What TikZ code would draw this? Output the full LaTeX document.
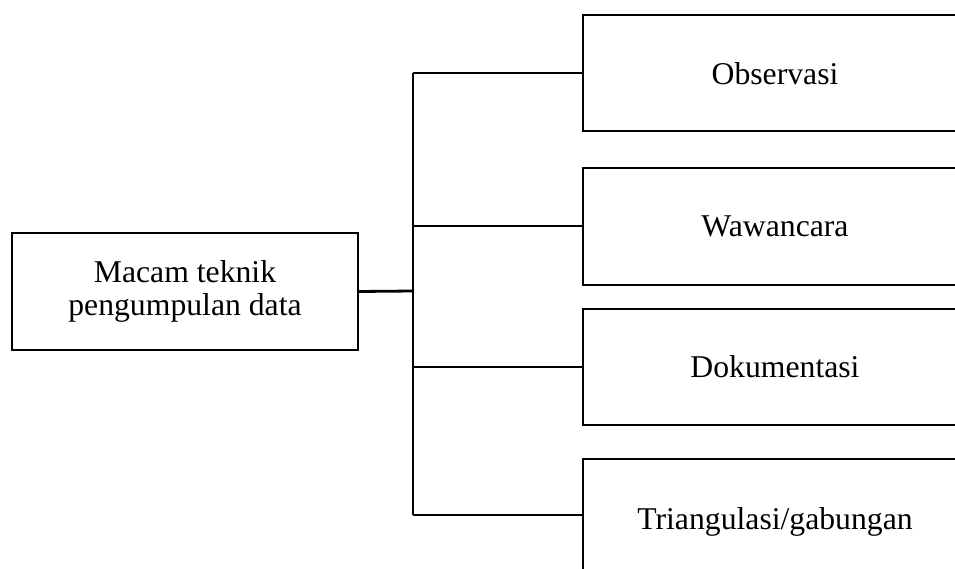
\documentclass[tikz,border=0pt]{standalone}
\usepackage{fontspec}
\setmainfont{Liberation Serif}
\begin{document}
\begin{tikzpicture}[x=1pt,y=-1pt,
  box/.style={draw,line width=2pt,minimum width=384pt,minimum height=116pt,inner sep=0pt,
    font=\fontsize{31.7}{33}\selectfont,align=center},
  conn/.style={line width=2pt}]
\useasboundingbox (0,0) rectangle (955,569);
\clip (0,0) rectangle (955,569);
\node[box, minimum width=346pt, minimum height=117pt] (src) at (185,291.5) {Macam teknik\\pengumpulan data};
\node[box] (b1) at (775,73.5) {Observasi};
\node[box] (b2) at (775,226.5) {Wawancara};
\node[box] (b3) at (775,367) {Dokumentasi};
\node[box, minimum height=126pt] (b4) at (775,522) {Triangulasi/gabungan};
\coordinate (j) at (413,291);
\coordinate (t1) at (413,73.5);
\coordinate (t4) at (413,515);
\draw[line width=2.8pt] (src.east) -- (j);
\draw[conn] (t1) -- (t4);
\draw[conn] (t1) -- (b1.west);
\draw[conn] (b2.west -| t1) -- (b2.west);
\draw[conn] (b3.west -| t1) -- (b3.west);
\draw[conn] (t4) -- (t4 -| b4.west);
\end{tikzpicture}
\end{document}
